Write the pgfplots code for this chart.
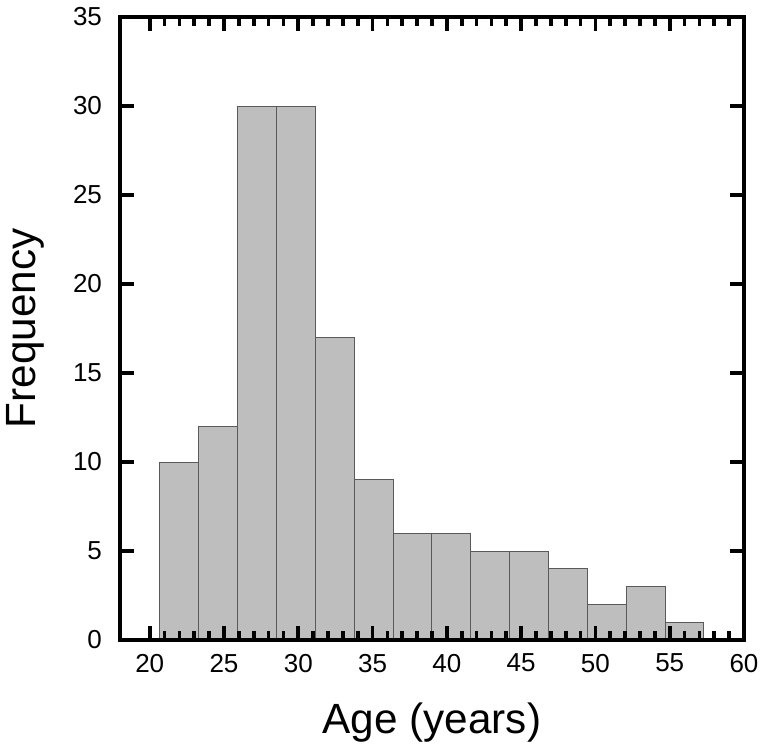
\documentclass[border=0pt]{standalone}
\usepackage{pgfplots}
\pgfplotsset{compat=1.18}
\usepackage{fontspec}
\setmainfont{Liberation Sans}
\definecolor{barfill}{HTML}{BEBEBE}
\definecolor{baredge}{HTML}{5A5A5A}
\begin{document}
\begin{tikzpicture}
\begin{axis}[
  at={(0pt,0pt)}, anchor=south west,
  scale only axis,
  width=468pt, height=467.25pt,
  xmin=18, xmax=60, ymin=0, ymax=35,
  xtick={20,25,...,60}, ytick={0,5,...,35},
  minor x tick num=4,
  tick align=inside,
  axis on top,
  axis line style={line width=3pt},
  major tick length=10.5pt, minor tick length=6.5pt,
  every major tick/.append style={black, line width=2.8pt},
  every minor tick/.append style={black, line width=2.8pt},
  /pgf/number format/assume math mode=true,
  ticklabel style={font=\fontsize{19.5}{22}\selectfont},
  xticklabel style={yshift=-7pt},
  yticklabel style={xshift=-10pt},
  xlabel={Age (years)}, ylabel={Frequency},
  label style={font=\fontsize{31.7}{36}\selectfont},
  xlabel style={at={(axis description cs:0.5,-0.132)}, anchor=center},
  ylabel style={at={(axis description cs:-0.152,0.5)}, anchor=center, rotate=0},
  clip=false,
]
\addplot[ybar interval, fill=barfill, draw=baredge, line width=0.6pt] coordinates {
(20.67,10) (23.29,12) (25.90,30) (28.52,30) (31.14,17) (33.75,9) (36.37,6)
(38.99,6) (41.60,5) (44.22,5) (46.84,4) (49.45,2) (52.07,3) (54.69,1) (57.30,1)
};
\end{axis}
\path[use as bounding box] (-90pt,-83.25pt) rectangle (483pt,480pt);
\end{tikzpicture}
\end{document}
